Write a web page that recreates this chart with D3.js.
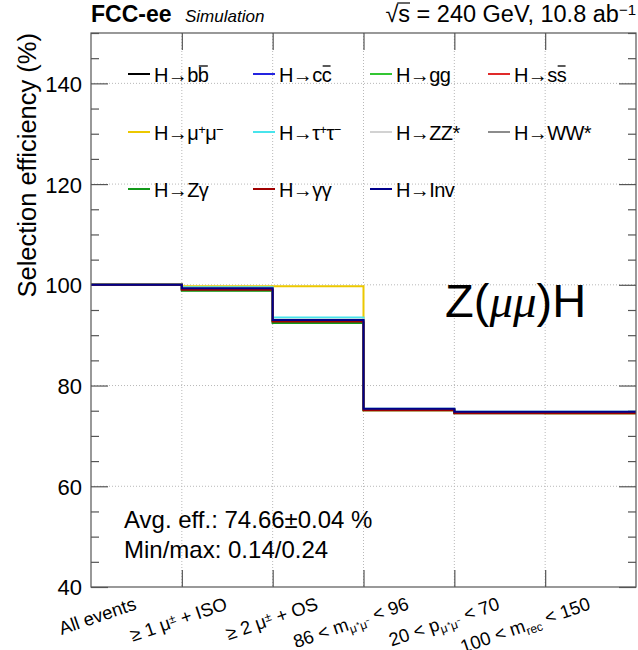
<!DOCTYPE html>
<html>
<head>
<meta charset="utf-8">
<script src="https://cdn.jsdelivr.net/npm/d3@7"></script>
<style>
  body { margin: 0; background: #fff; }
  svg text { font-family: "Liberation Sans", Arial, Helvetica, sans-serif; fill: #000; }
</style>
</head>
<body>
<div id="chart"></div>
<script>
// cut flow categories (segments: [text, kind])
var categories = [
  [["All events", ""]],
  [["≥ 1 μ", ""], ["±", "sup"], [" + ISO", ""]],
  [["≥ 2 μ", ""], ["±", "sup"], [" + OS", ""]],
  [["86 < m", ""], ["μ⁺μ⁻", "sub"], [" < 96", ""]],
  [["20 < p", ""], ["μ⁺μ⁻", "sub"], [" < 70", ""]],
  [["100 < m", ""], ["rec", "sub"], [" < 150", ""]]
];

// efficiency (%) per cut, one array per decay mode
var effBB   = [100, 99.1, 92.9, 75.3, 74.7, 74.6];
var effCC   = [100, 99.2, 92.9, 75.3, 74.7, 74.7];
var effGG   = [100, 98.9, 92.5, 75.2, 74.6, 74.6];
var effSS   = [100, 99.1, 92.8, 75.3, 74.7, 74.6];
var effMuMu = [100, 99.7, 99.7, 75.1, 74.6, 74.5];
var effTauTau = [100, 99.5, 93.5, 75.4, 74.8, 74.8];
var effZZ   = [100, 99.3, 93.1, 75.3, 74.7, 74.7];
var effWW   = [100, 99.2, 93.0, 75.3, 74.7, 74.6];
var effZGam = [100, 98.8, 92.4, 75.1, 74.5, 74.5];
var effGamGam = [100, 99.0, 92.7, 75.1, 74.5, 74.5];
var effInv  = [100, 99.3, 93.0, 75.4, 74.8, 74.8];

var seriesNames = [
  [["H→b", ""], ["b", "bar"]],
  [["H→c", ""], ["c", "bar"]],
  [["H→gg", ""]],
  [["H→s", ""], ["s", "bar"]],
  [["H→μ", ""], ["+", "sup"], ["μ", ""], ["−", "sup"]],
  [["H→τ", ""], ["+", "sup"], ["τ", ""], ["−", "sup"]],
  [["H→ZZ*", ""]],
  [["H→WW*", ""]],
  [["H→Zγ", ""]],
  [["H→γγ", ""]],
  [["H→Inv", ""]]
];
var seriesValues = [effBB, effCC, effGG, effSS, effMuMu, effTauTau, effZZ, effWW, effZGam, effGamGam, effInv];
var seriesColors = ["#000000", "#2424e0", "#33c633", "#e02a2a", "#ecc800", "#48e4ec",
                    "#d2d2d2", "#8c8c8c", "#13991a", "#a00000", "#00008c"];

var yTicksMajor = [40, 60, 80, 100, 120, 140];

var W = 638, H = 650;
var mLeft = 91, mRight = 636, mTop = 33, mBottom = 587;

var svg = d3.select("#chart").append("svg")
  .attr("width", W).attr("height", H);

var x = d3.scaleLinear().domain([0, categories.length]).range([mLeft, mRight]);
var y = d3.scaleLinear().domain([40, 150]).range([mBottom, mTop]);

// grid
var grid = svg.append("g").attr("stroke", "#b8b8b8").attr("stroke-dasharray", "1,2").attr("stroke-width", 1);
d3.range(1, categories.length).forEach(function (i) {
  grid.append("line").attr("x1", x(i)).attr("x2", x(i)).attr("y1", mTop).attr("y2", mBottom);
});
yTicksMajor.slice(1).forEach(function (v) {
  grid.append("line").attr("x1", mLeft).attr("x2", mRight).attr("y1", y(v)).attr("y2", y(v));
});

// axes (ROOT style ticks inside frame)
function styleAxis(g) {
  g.select(".domain").remove();
  g.selectAll("line").attr("stroke", "#555").attr("stroke-width", 1.2);
}
var minorTicks = d3.range(40, 151, 5).filter(function (v) { return yTicksMajor.indexOf(v) < 0; });

svg.append("g").attr("transform", "translate(" + mLeft + ",0)")
  .call(d3.axisLeft(y).tickValues(minorTicks).tickSize(-8).tickFormat(""))
  .call(styleAxis);
svg.append("g").attr("transform", "translate(" + mLeft + ",0)")
  .call(d3.axisLeft(y).tickValues(yTicksMajor).tickSize(-17).tickPadding(9))
  .call(styleAxis)
  .selectAll("text").attr("font-size", 22).attr("dy", "0.36em")
  .style("font-family", "'Liberation Sans', Arial, sans-serif");
svg.append("g").attr("transform", "translate(" + mRight + ",0)")
  .call(d3.axisRight(y).tickValues(minorTicks).tickSize(-8).tickFormat(""))
  .call(styleAxis);
svg.append("g").attr("transform", "translate(" + mRight + ",0)")
  .call(d3.axisRight(y).tickValues(yTicksMajor).tickSize(-17).tickFormat(""))
  .call(styleAxis);
var edges = d3.range(1, categories.length);
svg.append("g").attr("transform", "translate(0," + mBottom + ")")
  .call(d3.axisBottom(x).tickValues(edges).tickSize(-17).tickFormat(""))
  .call(styleAxis);
svg.append("g").attr("transform", "translate(0," + mTop + ")")
  .call(d3.axisTop(x).tickValues(edges).tickSize(-17).tickFormat(""))
  .call(styleAxis);

// histograms
var step = d3.line()
  .x(function (d) { return x(d[0]); })
  .y(function (d) { return y(d[1]); })
  .curve(d3.curveStepAfter);

seriesValues.forEach(function (vals, i) {
  var pts = vals.map(function (v, j) { return [j, v]; });
  pts.push([vals.length, vals[vals.length - 1]]);
  svg.append("path")
    .attr("d", step(pts))
    .attr("fill", "none")
    .attr("stroke", seriesColors[i])
    .attr("stroke-width", 2);
});

// frame
svg.append("rect")
  .attr("x", mLeft).attr("y", mTop)
  .attr("width", mRight - mLeft).attr("height", mBottom - mTop)
  .attr("fill", "none").attr("stroke", "#555").attr("stroke-width", 1.2);

// rich text helper; bars are drawn as lines over the characters
function addSegments(t, segs, fs, baseY) {
  var pos = 0, bars = [];
  segs.forEach(function (s) {
    var ts = t.append("tspan").text(s[0]);
    if (s[1] === "sup") ts.attr("font-size", fs * 0.65).attr("baseline-shift", "45%");
    if (s[1] === "sub") ts.attr("font-size", fs * 0.65).attr("baseline-shift", "-30%");
    if (s[1] === "bar") bars.push([pos, pos + s[0].length - 1]);
    pos += s[0].length;
  });
  bars.forEach(function (b) {
    var n = t.node();
    var x0 = n.getStartPositionOfChar(b[0]).x;
    var x1 = n.getEndPositionOfChar(b[1]).x;
    svg.append("line")
      .attr("x1", x0 + 1).attr("x2", x1 - 0.5)
      .attr("y1", baseY - fs * 0.8).attr("y2", baseY - fs * 0.8)
      .attr("stroke", "#000").attr("stroke-width", 1.3);
  });
}

// x labels
categories.forEach(function (segs, i) {
  var t = svg.append("text")
    .attr("text-anchor", "end")
    .attr("font-size", 18.5)
    .attr("transform", "translate(" + (x(i + 0.5) + 1) + ",609) rotate(-19)");
  addSegments(t, segs, 18.5, 0);
});

// y title
svg.append("text")
  .attr("text-anchor", "end")
  .attr("font-size", 25.5)
  .attr("transform", "translate(36," + mTop + ") rotate(-90)")
  .text("Selection efficiency (%)");

// header
svg.append("text").attr("x", mLeft).attr("y", 22)
  .attr("font-size", 23).attr("font-weight", "bold").text("FCC-ee");
svg.append("text").attr("x", 185).attr("y", 22)
  .attr("font-size", 17).attr("font-style", "italic").text("Simulation");
var hdr = svg.append("text").attr("x", mRight).attr("y", 22)
  .attr("text-anchor", "end").attr("font-size", 23.5);
hdr.append("tspan").text("√s = 240 GeV, 10.8 ab");
hdr.append("tspan").attr("font-size", 15).attr("baseline-shift", "50%").text("−1");
var hn = hdr.node();
svg.append("line")
  .attr("x1", hn.getEndPositionOfChar(0).x - 1).attr("x2", hn.getEndPositionOfChar(1).x)
  .attr("y1", 22 - 19).attr("y2", 22 - 19)
  .attr("stroke", "#000").attr("stroke-width", 1.2);

// legend
var legCols = [128, 253, 370, 488];
var legRows = [74, 132, 189];
seriesNames.forEach(function (segs, i) {
  var cx = legCols[i % 4], cy = legRows[Math.floor(i / 4)];
  svg.append("line")
    .attr("x1", cx).attr("x2", cx + 22).attr("y1", cy).attr("y2", cy)
    .attr("stroke", seriesColors[i]).attr("stroke-width", 2);
  var t = svg.append("text").attr("x", cx + 26).attr("y", cy + 8)
    .attr("font-size", 20).attr("letter-spacing", -0.6);
  addSegments(t, segs, 20, cy + 8);
});

// process label
var proc = svg.append("text").attr("x", 445).attr("y", 317).attr("font-size", 47);
proc.append("tspan").text("Z(");
proc.append("tspan").attr("font-family", "'Liberation Serif', serif").attr("font-style", "italic").text("μμ");
proc.append("tspan").text(")H");

// stats
svg.append("text").attr("x", 124).attr("y", 528).attr("font-size", 24)
  .text("Avg. eff.: 74.66±0.04 %");
svg.append("text").attr("x", 124).attr("y", 558).attr("font-size", 24)
  .text("Min/max: 0.14/0.24");
</script>
</body>
</html>
